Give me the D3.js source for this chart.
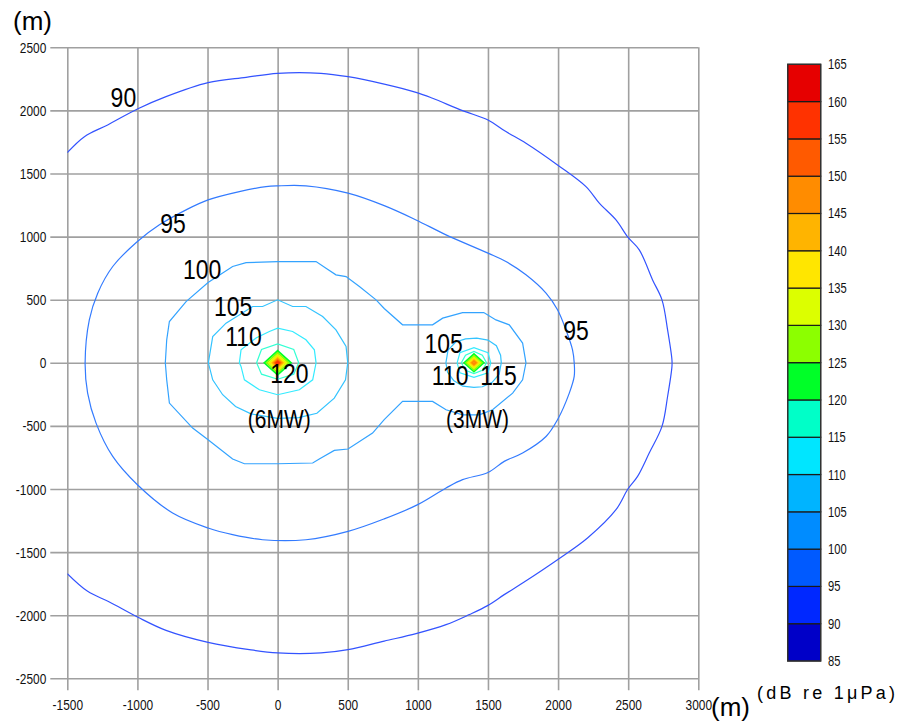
<!DOCTYPE html>
<html><head><meta charset="utf-8">
<script src="https://cdn.jsdelivr.net/npm/d3@7"></script>
<style>body{margin:0;background:#fff} svg{display:block}</style>
</head><body><svg id="c" width="898" height="724"></svg>
<script>
// ---------------- data ----------------
const xTicks = [-1500,-1000,-500,0,500,1000,1500,2000,2500,3000];
const yTicks = [-2500,-2000,-1500,-1000,-500,0,500,1000,1500,2000,2500];
const bandEdges = [85,90,95,100,105,110,115,120,125,130,135,140,145,150,155,160,165];
const bandColors = ["#0000c8","#0028ff","#005aff","#008cff","#00b4ff","#00e6ff","#00ffc8","#00ff28",
                    "#8cff00","#dcff00","#ffe600","#ffb400","#ff8c00","#ff5a00","#ff3200","#e60000"];

const contour90 = [[-1500,1665],[-1378,1792],[-1212,1885],[-1000,2011],[-796,2109],[-496,2220],[-225,2262],[0,2294],[309,2294],[502,2267],[760,2208],[987,2143],[1105,2096],[1319,1998],[1500,1924],[1628,1832],[1771,1740],[1996,1568],[2199,1396],[2294,1265],[2413,1132],[2498,995],[2579,895],[2674,657],[2741,499],[2781,261],[2812,24],[2812,-30],[2781,-267],[2741,-504],[2650,-715],[2567,-900],[2498,-1000],[2413,-1164],[2210,-1388],[1996,-1560],[1747,-1745],[1616,-1837],[1497,-1924],[1367,-1995],[1201,-2075],[987,-2146],[760,-2205],[502,-2273],[309,-2299],[0,-2299],[-202,-2273],[-496,-2215],[-796,-2120],[-1000,-2014],[-1200,-1895],[-1355,-1811],[-1500,-1671]];
const contour95 = [[-1373,0],[-1343,340],[-1283,552],[-1176,763],[-1000,961],[-843,1093],[-653,1212],[-496,1291],[-273,1357],[-83,1396],[0,1402],[202,1402],[502,1344],[760,1245],[987,1132],[1201,1014],[1500,869],[1628,802],[1771,697],[1914,552],[1996,420],[2056,261],[2103,103],[2115,0],[2115,-108],[2080,-240],[1996,-451],[1914,-584],[1747,-715],[1616,-781],[1500,-869],[1319,-926],[1201,-992],[999,-1124],[760,-1237],[502,-1336],[202,-1402],[-107,-1402],[-321,-1362],[-496,-1309],[-749,-1190],[-1000,-966],[-1176,-742],[-1295,-478],[-1355,-240]];
const contour100 = [[-801,0],[-791,182],[-772,327],[-653,485],[-496,636],[-321,763],[-225,794],[0,802],[274,802],[345,750],[416,697],[488,683],[583,604],[702,499],[760,430],[891,301],[1105,301],[1177,354],[1319,398],[1470,398],[1557,340],[1652,301],[1747,156],[1771,0],[1747,-135],[1676,-240],[1533,-372],[1438,-412],[1319,-412],[1201,-372],[1105,-306],[891,-306],[760,-450],[677,-557],[502,-683],[404,-694],[297,-763],[250,-794],[0,-800],[-237,-800],[-321,-763],[-496,-610],[-606,-517],[-772,-319],[-791,-135]];
const contour105a = [[-494,0],[-463,208],[-368,314],[-178,446],[-107,446],[0,499],[107,446],[202,446],[321,367],[416,261],[488,129],[500,0],[484,-135],[404,-280],[280,-400],[150,-435],[0,-440],[-190,-405],[-300,-346],[-392,-253],[-463,-135]];
const contour110a = [[-273,0],[-261,103],[-154,196],[-59,248],[0,275],[107,248],[202,182],[262,103],[274,0],[250,-135],[155,-214],[0,-253],[-130,-214],[-237,-135],[-261,-29]];
const contour115a = [[-150,0],[-115,105],[0,150],[115,105],[150,0],[115,-90],[0,-130],[-115,-90]];
const contour105b = [[1200,0],[1215,100],[1270,165],[1340,190],[1420,195],[1500,180],[1560,135],[1590,60],[1595,0],[1580,-90],[1530,-155],[1460,-190],[1400,-195],[1320,-185],[1255,-140],[1212,-75]];
const contour110b = [[1280,0],[1300,80],[1400,120],[1500,80],[1520,0],[1500,-80],[1400,-115],[1300,-80]];
const contour115b = [[1310,0],[1340,60],[1400,90],[1460,60],[1490,0],[1460,-60],[1400,-85],[1340,-60]];

// sources: peak-region contour levels and their half-widths (m)
const src6X = 0, src3X = 1400;
const src6Levels = [120,125,130,135,140,145,150,155];
const src6Radii  = [95,78,62,48,36,26,17,9];
const src3Levels = [120,125,130,135,140,145];
const src3Radii  = [70,55,42,30,20,12];

// contour labels
const labelText = ["90","95","100","105","110","120","105","110","115","95"];
const labelX    = [-1100,-746,-539,-318,-243,83,1183,1230,1575,2128];
const labelY    = [2030,1032,663,372,135,-161,77,-174,-174,182];
const srcLabels = ["(6MW)","(3MW)"];
const srcLabelX = [12,1426];
const srcLabelY = [-517,-515];

// ---------------- drawing ----------------
const svg = d3.select("#c");
const L = 67.3, R = 698.3, T = 47.3, B = 678.3;
const x = d3.scaleLinear([-1500,3000],[L,R]);
const y = d3.scaleLinear([-2500,2500],[B,T]);
const col = lv => bandColors[(lv-85)/5];
const lineCol = lv => d3.interpolateRgb(col(lv), "#ffffff")(0.2);
const FONT = "Liberation Sans, Arial, sans-serif";
const gridCol = "#a0a0a0";

// grid via axes
const gx = svg.append("g").attr("transform",`translate(0,${B})`)
  .call(d3.axisBottom(x).tickValues(xTicks).tickSizeInner(-(B-T)).tickSizeOuter(0).tickFormat(d=>String(d)));
gx.select(".domain").remove();
gx.selectAll(".tick line").attr("y1",12).attr("stroke",gridCol).attr("stroke-width",1.6);
gx.selectAll(".tick text").attr("y",32).attr("dy",null).attr("fill","#111")
  .attr("font-family",FONT).attr("font-size",14).attr("transform","scale(0.85,1)");

const gy = svg.append("g").attr("transform",`translate(${L},0)`)
  .call(d3.axisLeft(y).tickValues(yTicks).tickSizeInner(-(R-L)).tickSizeOuter(0).tickFormat(d=>String(d)));
gy.select(".domain").remove();
gy.selectAll(".tick line").attr("x1",-17).attr("stroke",gridCol).attr("stroke-width",1.6);
gy.selectAll(".tick text").attr("x",null).attr("dy","0.36em").attr("fill","#111")
  .attr("font-family",FONT).attr("font-size",14).attr("text-anchor","end")
  .attr("transform","translate(-21,0) scale(0.85,1)");

// clip
svg.append("clipPath").attr("id","clip").append("rect")
  .attr("x",L).attr("y",T).attr("width",R-L).attr("height",B-T);
const plot = svg.append("g").attr("clip-path","url(#clip)");

const line = d3.line().x(d=>x(d[0])).y(d=>y(d[1]));
const lineClosed = d3.line().x(d=>x(d[0])).y(d=>y(d[1])).curve(d3.curveLinearClosed);
const smooth = d3.line().x(d=>x(d[0])).y(d=>y(d[1])).curve(d3.curveCatmullRom.alpha(0.5));
const smoothClosed = d3.line().x(d=>x(d[0])).y(d=>y(d[1])).curve(d3.curveCatmullRomClosed.alpha(0.5));

const contours = [
  {lv:90, pts:contour90, gen:smooth},
  {lv:95, pts:contour95, gen:smoothClosed},
  {lv:100, pts:contour100, gen:lineClosed},
  {lv:105, pts:contour105a, gen:lineClosed},
  {lv:110, pts:contour110a, gen:lineClosed},
  {lv:115, pts:contour115a, gen:lineClosed},
  {lv:105, pts:contour105b, gen:lineClosed},
  {lv:110, pts:contour110b, gen:lineClosed},
  {lv:115, pts:contour115b, gen:lineClosed}
];
plot.selectAll("path.ct").data(contours).join("path").attr("class","ct")
  .attr("d",d=>d.gen(d.pts))
  .attr("fill","none").attr("stroke",d=>lineCol(d.lv)).attr("stroke-width",1.2);

function diamonds(cx, levels, radii){
  const data = levels.map((lv,i)=>({lv, pts:[[cx-radii[i],0],[cx,radii[i]],[cx+radii[i],0],[cx,-radii[i]]]}));
  plot.append("g").selectAll("path").data(data).join("path")
    .attr("d",d=>lineClosed(d.pts)).attr("fill","none")
    .attr("stroke",d=>col(d.lv)).attr("stroke-width",1.8);
}
diamonds(src6X, src6Levels, src6Radii);
diamonds(src3X, src3Levels, src3Radii);

// labels
svg.append("g").selectAll("text").data(labelText).join("text")
  .attr("transform",(d,i)=>`translate(${x(labelX[i])},${y(labelY[i])}) scale(0.82,1)`)
  .attr("text-anchor","middle").attr("font-family",FONT).attr("font-size",28).attr("fill","#000")
  .text(d=>d);
svg.append("g").selectAll("text").data(srcLabels).join("text")
  .attr("transform",(d,i)=>`translate(${x(srcLabelX[i])},${y(srcLabelY[i])}) scale(0.84,1)`)
  .attr("text-anchor","middle").attr("font-family",FONT).attr("font-size",25).attr("fill","#000")
  .text(d=>d);

// axis unit labels
svg.append("text").attr("x",13).attr("y",30).attr("font-family",FONT).attr("font-size",26).text("(m)");
svg.append("text").attr("x",711).attr("y",716).attr("font-family",FONT).attr("font-size",26).text("(m)");
svg.append("text").attr("x",757).attr("y",699).attr("font-family",FONT).attr("font-size",18)
  .attr("textLength",138).attr("lengthAdjust","spacing").text("(dB re 1μPa)");

// colorbar
const cb = d3.scaleLinear([85,165],[661,64.3]);
const cbX = 787.7, cbW = 33;
const bands = bandEdges.slice(0,-1).map((e,i)=>({lo:e, hi:bandEdges[i+1], c:bandColors[i]}));
const gcb = svg.append("g");
gcb.selectAll("rect").data(bands).join("rect")
  .attr("x",cbX).attr("width",cbW).attr("y",d=>cb(d.hi)).attr("height",d=>cb(d.lo)-cb(d.hi))
  .attr("fill",d=>d.c).attr("stroke","#1a1a1a").attr("stroke-width",1.2);
gcb.append("rect").attr("x",cbX).attr("y",cb(165)).attr("width",cbW).attr("height",cb(85)-cb(165))
  .attr("fill","none").attr("stroke","#333").attr("stroke-width",1.2);
gcb.selectAll("text").data(bandEdges).join("text")
  .attr("transform",d=>`translate(828,${cb(d)+5}) scale(0.8,1)`)
  .attr("font-family",FONT).attr("font-size",14).attr("fill","#111").text(d=>d);
</script></body></html>
